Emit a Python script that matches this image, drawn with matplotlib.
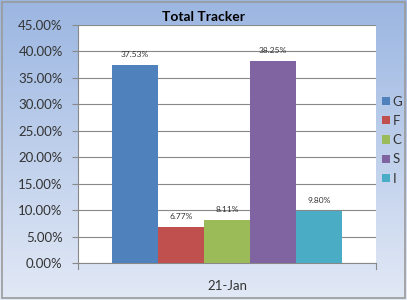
import numpy as np
import matplotlib.pyplot as plt
from matplotlib.patches import Rectangle

plt.rcParams['font.family'] = ['Lato', 'DejaVu Sans']

categories = ["G", "F", "C", "S", "I"]
values = [37.53, 6.77, 8.11, 38.25, 9.80]  # percent
colors = ["#4f81bd", "#c0504d", "#9bbb59", "#8064a2", "#4bacc6"]
group_label = "21-Jan"
yticks = np.arange(0, 46, 5)

W, H = 407, 300
fig = plt.figure(figsize=(W / 100, H / 100), dpi=100)

# gradient background
bg = fig.add_axes([0, 0, 1, 1], zorder=-10)
top = np.array([0x9b, 0xb6, 0xe1]) / 255
bot = np.array([0xe2, 0xe9, 0xf6]) / 255
t = np.linspace(0, 1, 256)[:, None]
grad = top * (1 - t) + bot * t
bg.imshow(grad[:, None, :].repeat(2, axis=1), aspect="auto", extent=[0, 1, 0, 1])
bg.add_patch(Rectangle((2 / W, 2 / H), 1 - 4 / W, 1 - 4 / H, fill=False,
                       edgecolor="#9a9a9a", lw=1.2, transform=bg.transAxes))
bg.set_xlim(0, 1)
bg.set_ylim(0, 1)
bg.axis("off")

ax = fig.add_axes([78 / W, 1 - 263 / H, (376 - 78) / W, (263 - 25) / H])
ax.set_facecolor("white")

bw = 46 / 298
n = len(values)
xs = (np.arange(n) - (n - 1) / 2) * bw
bars = ax.bar(xs, values, width=bw, color=colors, label=categories, zorder=3)
for x, v in zip(xs, values):
    ax.text(x, v + 1.3, f"{v:.2f}%", ha="center", va="bottom", fontsize=6,
            color="#333333", zorder=4)

ax.set_xlim(-0.5, 0.5)
ax.set_ylim(0, 45)
ax.set_yticks(yticks)
ax.set_yticklabels([f"{v:.2f}%" for v in yticks], fontsize=9.5, color="#333333")
ax.set_xticks([0])
ax.set_xticklabels([group_label], fontsize=9.5, color="#333333")
ax.tick_params(axis="x", length=0, pad=12)
ax.tick_params(axis="y", length=4, direction="out", color="#888888", pad=7)
ax.yaxis.grid(True, color="#888888", lw=0.8, zorder=0)
for s in ["top", "right"]:
    ax.spines[s].set_visible(False)
ax.spines["left"].set_color("#888888")
ax.spines["bottom"].set_color("#888888")

# small ticks at both ends of the category axis
ax.plot([-0.5, -0.5], [0, -1.2], color="#888888", lw=0.8, clip_on=False)
ax.plot([0.5, 0.5], [0, -1.2], color="#888888", lw=0.8, clip_on=False)

fig.text(203 / W, 1 - 17 / H, "Total Tracker", ha="center", va="center",
         fontsize=10, fontweight="bold", color="black")

leg = fig.legend(handles=list(bars), labels=categories, loc="upper left",
                 bbox_to_anchor=(379 / W, 1 - 93 / H), frameon=False,
                 fontsize=9.5, handlelength=0.6, handleheight=0.6,
                 handletextpad=0.25, labelspacing=0.55, borderaxespad=0,
                 borderpad=0.2)
for txt in leg.get_texts():
    txt.set_color("#333333")

fig.savefig("out.png", dpi=100)
